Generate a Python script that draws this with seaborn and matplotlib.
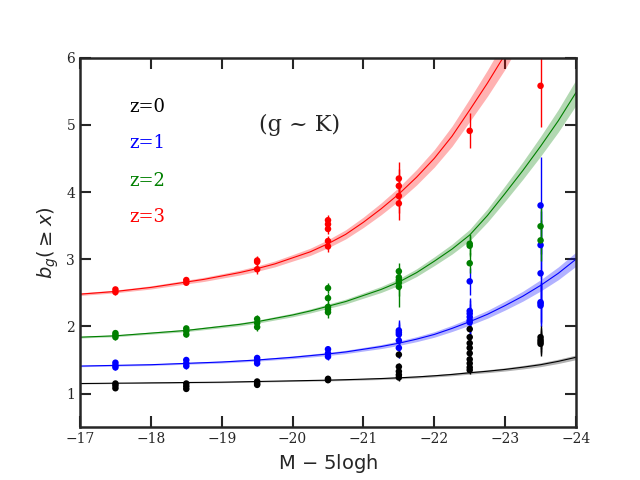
import matplotlib
matplotlib.use("Agg")
import matplotlib.pyplot as plt
import seaborn as sns
import pandas as pd

# fitted curves at quarter-magnitude steps
curve_mag = [-17, -17.25, -17.5, -17.75, -18, -18.25, -18.5, -18.75, -19, -19.25,
             -19.5, -19.75, -20, -20.25, -20.5, -20.75, -21, -21.25, -21.5, -21.75,
             -22, -22.25, -22.5, -22.75, -23, -23.25, -23.5, -23.75, -24]
curve_z0 = [1.15, 1.152, 1.155, 1.157, 1.16, 1.162, 1.165, 1.167, 1.17, 1.175,
            1.18, 1.185, 1.19, 1.195, 1.20, 1.207, 1.215, 1.224, 1.235, 1.248,
            1.265, 1.285, 1.31, 1.333, 1.36, 1.393, 1.43, 1.48, 1.54]
curve_z1 = [1.41, 1.415, 1.42, 1.425, 1.43, 1.44, 1.45, 1.46, 1.47, 1.485,
            1.50, 1.52, 1.54, 1.565, 1.59, 1.62, 1.66, 1.70, 1.75, 1.81,
            1.88, 1.97, 2.07, 2.18, 2.31, 2.45, 2.61, 2.79, 3.00]
curve_z2 = [1.84, 1.85, 1.86, 1.88, 1.90, 1.92, 1.94, 1.97, 2.00, 2.03,
            2.07, 2.12, 2.17, 2.23, 2.30, 2.37, 2.46, 2.55, 2.66, 2.80,
            2.97, 3.15, 3.36, 3.65, 3.98, 4.32, 4.68, 5.06, 5.48]
curve_z3 = [2.48, 2.50, 2.52, 2.55, 2.58, 2.62, 2.66, 2.70, 2.75, 2.80,
            2.86, 2.93, 3.02, 3.11, 3.23, 3.37, 3.55, 3.75, 3.97, 4.22,
            4.50, 4.83, 5.22, 5.62, 6.05, 6.55, 7.10, 7.70, 8.40]
band_z0 = [0.006, 0.006, 0.006, 0.006, 0.007, 0.007, 0.007, 0.007, 0.008, 0.008,
           0.008, 0.009, 0.009, 0.010, 0.011, 0.012, 0.013, 0.014, 0.015, 0.016,
           0.017, 0.019, 0.020, 0.022, 0.024, 0.026, 0.029, 0.032, 0.035]
band_z1 = [0.010, 0.010, 0.011, 0.011, 0.012, 0.012, 0.013, 0.014, 0.015, 0.016,
           0.017, 0.018, 0.020, 0.022, 0.023, 0.025, 0.027, 0.030, 0.033, 0.037,
           0.041, 0.046, 0.052, 0.058, 0.066, 0.074, 0.084, 0.095, 0.105]
band_z2 = [0.013, 0.013, 0.014, 0.015, 0.016, 0.017, 0.018, 0.019, 0.020, 0.022,
           0.023, 0.025, 0.027, 0.030, 0.033, 0.036, 0.040, 0.045, 0.050, 0.057,
           0.065, 0.074, 0.085, 0.099, 0.115, 0.130, 0.148, 0.168, 0.190]
band_z3 = [0.020, 0.020, 0.021, 0.022, 0.024, 0.026, 0.028, 0.031, 0.033, 0.036,
           0.040, 0.044, 0.048, 0.054, 0.060, 0.068, 0.077, 0.088, 0.100, 0.115,
           0.130, 0.150, 0.170, 0.195, 0.220, 0.250, 0.280, 0.310, 0.340]

# measured bias points
mag_z0 = [-17.5] * 3 + [-18.5] * 3 + [-19.5] * 3 + [-20.5] * 2 + [-21.5] * 5 + [-22.5] * 9 + [-23.5] * 4
bias_z0 = [1.15, 1.12, 1.08, 1.15, 1.11, 1.07, 1.18, 1.15, 1.13, 1.22, 1.20,
           1.58, 1.40, 1.33, 1.28, 1.24,
           1.96, 1.84, 1.75, 1.68, 1.60, 1.51, 1.45, 1.39, 1.35,
           1.84, 1.80, 1.77, 1.74]
err_z0 = [0.03] * 11 + [0.05] * 5 + [0.06] * 9 + [0.18] * 4

mag_z1 = [-17.5] * 3 + [-18.5] * 3 + [-19.5] * 3 + [-20.5] * 3 + [-21.5] * 5 + [-22.5] * 6 + [-23.5] * 6
bias_z1 = [1.46, 1.42, 1.39, 1.50, 1.45, 1.41, 1.53, 1.49, 1.45, 1.66, 1.60, 1.55,
           1.94, 1.91, 1.88, 1.79, 1.68,
           2.67, 2.23, 2.19, 2.14, 2.09, 2.06,
           3.80, 3.21, 2.79, 2.36, 2.34, 2.31]
err_z1 = [0.04] * 9 + [0.05] * 3 + [0.15] * 5 + [0.2] * 6 + [0.72, 0.5, 0.4, 0.3, 0.3, 0.3]

mag_z2 = [-17.5] * 3 + [-18.5] * 3 + [-19.5] * 3 + [-20.5] * 5 + [-21.5] * 5 + [-22.5] * 3 + [-23.5] * 2
bias_z2 = [1.90, 1.87, 1.84, 1.97, 1.93, 1.88, 2.11, 2.05, 1.99,
           2.57, 2.42, 2.29, 2.25, 2.21,
           2.82, 2.73, 2.69, 2.65, 2.59,
           3.23, 3.20, 2.94,
           3.49, 3.28]
err_z2 = [0.04] * 6 + [0.06] * 3 + [0.08] * 5 + [0.13, 0.13, 0.15, 0.2, 0.3] + [0.15] * 3 + [0.3, 0.3]

mag_z3 = [-17.5] * 2 + [-18.5] * 2 + [-19.5] * 3 + [-20.5] * 5 + [-21.5] * 4 + [-22.5] + [-23.5]
bias_z3 = [2.55, 2.51, 2.69, 2.65, 2.98, 2.96, 2.85,
           3.58, 3.52, 3.45, 3.27, 3.19,
           4.20, 4.09, 3.94, 3.83,
           4.91, 5.58]
err_z3 = [0.04] * 4 + [0.07] * 3 + [0.08] * 5 + [0.25] * 4 + [0.26, 0.62]

labels = ["z=0", "z=1", "z=2", "z=3"]
colors = ["black", "blue", "green", "red"]

curves = [curve_z0, curve_z1, curve_z2, curve_z3]
bands = [band_z0, band_z1, band_z2, band_z3]
points = [(mag_z0, bias_z0, err_z0), (mag_z1, bias_z1, err_z1),
          (mag_z2, bias_z2, err_z2), (mag_z3, bias_z3, err_z3)]

sns.set_style("ticks")
fig, ax = plt.subplots(figsize=(6.4, 4.8), dpi=100)

for c, curve, band in zip(colors, curves, bands):
    df = pd.DataFrame({"mag": curve_mag, "b": curve})
    lo = [v - e for v, e in zip(curve, band)]
    hi = [v + e for v, e in zip(curve, band)]
    ax.fill_between(curve_mag, lo, hi, color=c, alpha=0.3, linewidth=0)
    sns.lineplot(data=df, x="mag", y="b", color=c, lw=0.8, ax=ax)

for c, (m, b, e) in zip(colors, points):
    ax.errorbar(m, b, yerr=e, fmt="none", ecolor=c, elinewidth=1)
    sns.scatterplot(x=m, y=b, color=c, s=22, edgecolor="none", ax=ax, zorder=3)

text_y = [5.27, 4.73, 4.16, 3.63]
for lab, c, ty in zip(labels, colors, text_y):
    ax.text(-17.7, ty, lab, color=c, fontsize=13, family="DejaVu Serif",
            ha="left", va="center")
ax.text(-20.1, 5.0, "(g ~ K)", fontsize=16, family="DejaVu Serif",
        ha="center", va="center")

ax.set_xlim(-17, -24)
ax.set_ylim(0.5, 6)
ax.set_xticks(range(-17, -25, -1))
ax.set_yticks(range(1, 7))
ax.tick_params(direction="in", length=8, width=1.5, top=True, right=True,
               labelsize=10)
for lab in ax.get_xticklabels() + ax.get_yticklabels():
    lab.set_family("DejaVu Serif")
for sp in ax.spines.values():
    sp.set_linewidth(1.8)
ax.set_xlabel("M $-$ 5logh", fontsize=14)
ax.set_ylabel(r"$b_g(\geq x)$", fontsize=14)

fig.subplots_adjust(left=0.125, right=0.9, bottom=0.11, top=0.88)
fig.savefig("out.png", dpi=100)
